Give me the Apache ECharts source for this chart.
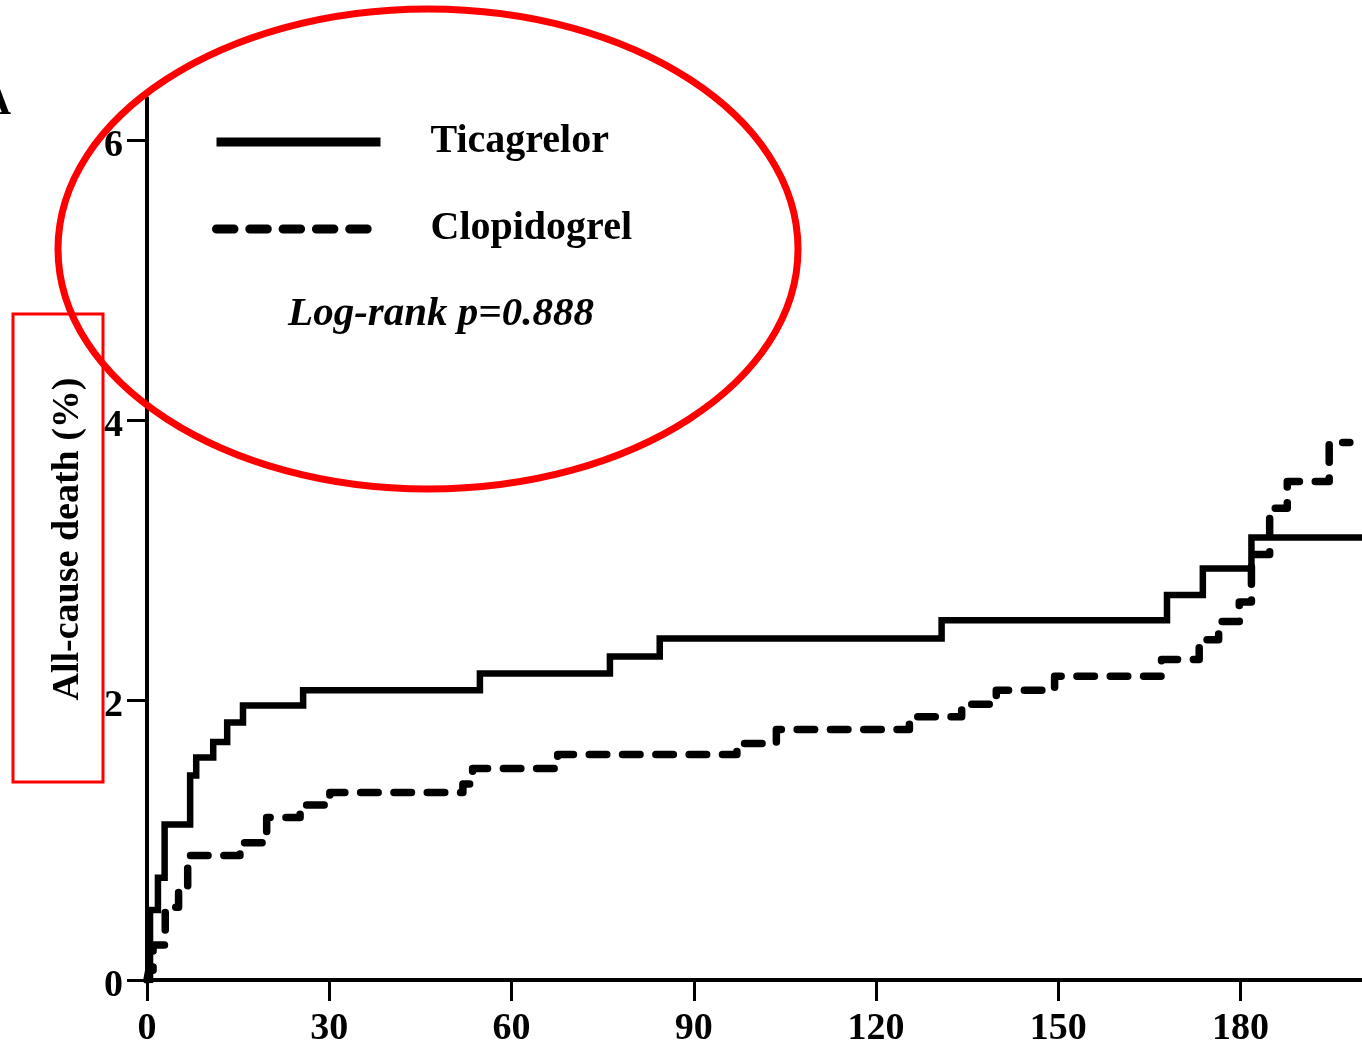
<!DOCTYPE html>
<html>
<head>
<meta charset="utf-8">
<script src="https://cdn.jsdelivr.net/npm/echarts@6/dist/echarts.min.js"></script>
<style>
  html, body { margin: 0; padding: 0; background: #fff; }
  #chart { width: 1362px; height: 1042px; }
</style>
</head>
<body>
<div id="chart"></div>
<script>
// Kaplan-Meier style cumulative all-cause death (%) by day since enrolment
const seriesNames = ['Ticagrelor', 'Clopidogrel'];

const ticagrelorDays  = [0, 0.5, 1.8, 2.9, 7.1, 8.1, 10.9, 13.2, 15.8, 25.7, 54.8, 76.2, 84.4, 130.8, 167.9, 173.8, 181.8, 200];
const ticagrelorDeath = [0, 0.50, 0.73, 1.11, 1.46, 1.59, 1.70, 1.84, 1.96, 2.07, 2.19, 2.31, 2.44, 2.57, 2.75, 2.94, 3.16, 3.16];

const clopidogrelDays  = [0, 0.3, 1.0, 3.0, 5.2, 6.7, 15.3, 19.7, 25.2, 30.1, 52.0, 53.6, 67.6, 97.1, 103.6, 125.5, 134.1, 139.8, 149.4, 167.0, 173.2, 176.4, 179.8, 181.8, 184.8, 187.7, 194.6, 198];
const clopidogrelDeath = [0, 0.07, 0.25, 0.52, 0.64, 0.89, 0.98, 1.16, 1.25, 1.34, 1.40, 1.51, 1.61, 1.69, 1.79, 1.88, 1.97, 2.07, 2.17, 2.29, 2.43, 2.56, 2.70, 3.04, 3.37, 3.56, 3.84, 3.84];

const xTicks = [0, 30, 60, 90, 120, 150, 180];
const yTicks = [0, 2, 4, 6];

const yAxisTitle = 'All-cause death (%)';
const pValueText = 'Log-rank p=0.888';
const panelLabel = 'A';

const serif = '"Liberation Serif", "Times New Roman", Times, serif';

function pairs(xs, ys) {
  return xs.map((x, i) => [x, ys[i]]);
}

const chart = echarts.init(document.getElementById('chart'), null, { renderer: 'canvas' });

chart.setOption({
  backgroundColor: '#ffffff',
  animation: false,
  grid: { left: 147, right: 0, top: 98, bottom: 62, outerBoundsMode: 'none', containLabel: false },
  legend: {
    orient: 'vertical',
    left: 212,
    top: 122,
    padding: 0,
    itemWidth: 164,
    itemHeight: 40,
    itemGap: 47,
    selectedMode: false,
    data: seriesNames,
    // legend keys show only the line pattern, no marker
    itemStyle: { opacity: 0 },
    lineStyle: { width: 9 },
    textStyle: {
      fontFamily: serif,
      fontWeight: 'bold',
      fontSize: 40,
      lineHeight: 40,
      color: '#000',
      padding: [0, 0, 0, 45]
    }
  },
  xAxis: {
    type: 'value',
    min: 0,
    max: 200,
    interval: 30,
    splitLine: { show: false },
    axisLine: { show: true, onZero: false, lineStyle: { color: '#000', width: 4 } },
    axisTick: { show: true, inside: false, length: 21, customValues: xTicks, lineStyle: { color: '#000', width: 3 } },
    axisLabel: {
      customValues: xTicks,
      margin: 30,
      fontFamily: serif,
      fontWeight: 'bold',
      fontSize: 38,
      color: '#000'
    }
  },
  yAxis: {
    type: 'value',
    min: 0,
    max: 6.3,
    interval: 2,
    name: yAxisTitle,
    nameLocation: 'middle',
    nameGap: 60,
    nameTextStyle: {
      fontFamily: serif,
      fontWeight: 'bold',
      fontSize: 38,
      color: '#000'
    },
    splitLine: { show: false },
    axisLine: { show: true, onZero: false, lineStyle: { color: '#000', width: 4 } },
    axisTick: { show: true, inside: false, length: 20, customValues: yTicks, lineStyle: { color: '#000', width: 3 } },
    axisLabel: {
      customValues: yTicks,
      margin: 24,
      fontFamily: serif,
      fontWeight: 'bold',
      fontSize: 38,
      color: '#000',
      verticalAlign: 'top',
      lineHeight: 12
    }
  },
  series: [
    {
      name: seriesNames[0],
      type: 'line',
      step: 'end',
      symbol: 'none',
      showSymbol: false,
      data: pairs(ticagrelorDays, ticagrelorDeath),
      lineStyle: { color: '#000', width: 6.5, type: 'solid', join: 'miter', cap: 'butt' },
      itemStyle: { color: '#000' },
      z: 3
    },
    {
      name: seriesNames[1],
      type: 'line',
      step: 'end',
      symbol: 'none',
      showSymbol: false,
      data: pairs(clopidogrelDays, clopidogrelDeath),
      lineStyle: { color: '#000', width: 7.5, type: [17.5, 15.8], join: 'round', cap: 'round' },
      itemStyle: { color: '#000' },
      z: 3
    }
  ],
  graphic: [
    {
      type: 'text',
      x: 441,
      y: 314,
      style: {
        text: pValueText,
        fill: '#000',
        font: 'italic bold 41px ' + serif,
        textAlign: 'center',
        textVerticalAlign: 'middle'
      }
    },
    {
      type: 'text',
      x: 11,
      y: 103,
      style: {
        text: panelLabel,
        fill: '#000',
        font: 'bold 42px ' + serif,
        textAlign: 'right',
        textVerticalAlign: 'middle'
      }
    },
    {
      type: 'ellipse',
      z: 100,
      shape: { cx: 428, cy: 249, rx: 370, ry: 240 },
      style: { fill: null, stroke: '#ff0000', lineWidth: 7 }
    },
    {
      type: 'rect',
      z: 100,
      shape: { x: 13, y: 314, width: 90, height: 468 },
      style: { fill: null, stroke: '#ff0000', lineWidth: 3 }
    }
  ]
});
</script>
</body>
</html>
